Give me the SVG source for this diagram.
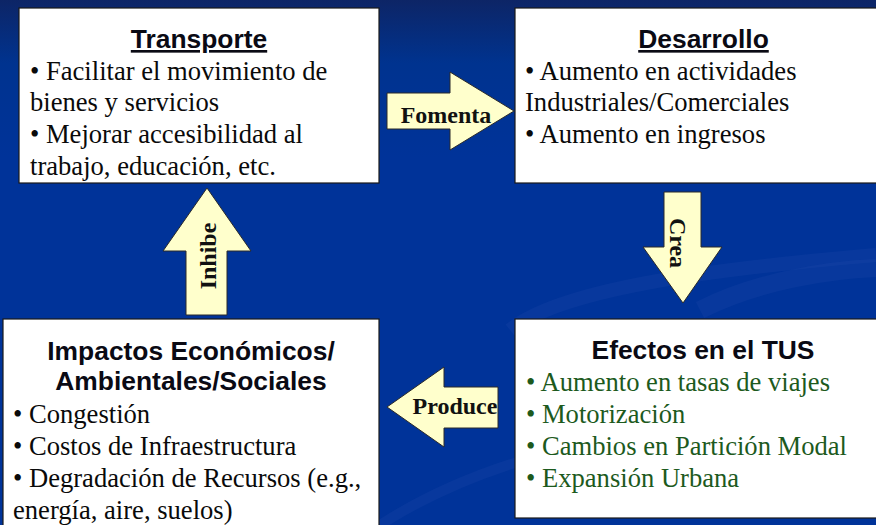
<svg xmlns="http://www.w3.org/2000/svg" width="876" height="525" viewBox="0 0 876 525">
  <defs>
    <linearGradient id="bg" x1="0" y1="0" x2="0" y2="1">
      <stop offset="0" stop-color="#0d2566"/>
      <stop offset="0.12" stop-color="#00338f"/>
      <stop offset="0.3" stop-color="#003399"/>
      <stop offset="1" stop-color="#003399"/>
    </linearGradient>
  </defs>
  <style>
    .box { fill: #ffffff; stroke: #1a1a1a; stroke-width: 1.2; }
    .title { font-family: "Liberation Sans", Arial, sans-serif; font-weight: bold; font-size: 26.4px; fill: #0a0a14; text-anchor: middle; }
    .ul { text-decoration: underline; }
    .body { font-family: "Liberation Serif", "Times New Roman", serif; font-size: 26.6px; fill: #0a0a0a; }
    .green { fill: #1d5a1d; }
    .arrow { fill: #ffffcc; stroke: #2a2a2a; stroke-width: 1; }
    .alabel { font-family: "Liberation Serif", "Times New Roman", serif; font-weight: bold; font-size: 24px; fill: #111111; text-anchor: middle; }
    .swoosh { fill: none; stroke: #2a4fb0; stroke-opacity: 0.2; }
  </style>

  <rect x="0" y="0" width="876" height="525" fill="url(#bg)"/>
  <path class="swoosh" stroke-width="14" d="M 510 330 C 560 290 700 270 876 255"/>
  <path class="swoosh" stroke-width="18" d="M 700 310 C 760 280 830 270 876 268"/>
  <path class="swoosh" stroke-width="10" d="M 380 525 C 450 480 520 460 560 450"/>

  <g id="node-transporte">
    <rect class="box" x="19" y="8" width="360" height="175"/>
    <text class="title ul" x="199" y="48">Transporte</text>
    <text class="body" x="30" y="80">• Facilitar el movimiento de</text>
    <text class="body" x="30" y="111">bienes y servicios</text>
    <text class="body" x="30" y="143">• Mejorar accesibilidad al</text>
    <text class="body" x="30" y="175">trabajo, educación, etc.</text>
  </g>

  <g id="node-desarrollo">
    <rect class="box" x="515" y="8" width="380" height="175"/>
    <text class="title ul" x="703.5" y="48">Desarrollo</text>
    <text class="body" x="525" y="80">• Aumento en actividades</text>
    <text class="body" x="525" y="111">Industriales/Comerciales</text>
    <text class="body" x="525" y="143">• Aumento en ingresos</text>
  </g>

  <g id="node-efectos">
    <rect class="box" x="515" y="319" width="380" height="199"/>
    <text class="title" x="703" y="359">Efectos en el TUS</text>
    <text class="body green" x="526" y="391">• Aumento en tasas de viajes</text>
    <text class="body green" x="526" y="423">• Motorización</text>
    <text class="body green" x="526" y="455">• Cambios en Partición Modal</text>
    <text class="body green" x="526" y="487">• Expansión Urbana</text>
  </g>

  <g id="node-impactos">
    <rect class="box" x="3" y="319" width="376" height="230"/>
    <text class="title" x="191" y="360">Impactos Económicos/</text>
    <text class="title" x="191" y="390">Ambientales/Sociales</text>
    <text class="body" x="13" y="423">• Congestión</text>
    <text class="body" x="13" y="455">• Costos de Infraestructura</text>
    <text class="body" x="13" y="487">• Degradación de Recursos (e.g.,</text>
    <text class="body" x="13" y="519">energía, aire, suelos)</text>
  </g>

  <g id="connectors">
    <g id="arrow-fomenta">
      <polygon class="arrow" points="387,93 450,93 450,72 514,111 450,150 450,129 387,129"/>
      <text class="alabel" x="446" y="123">Fomenta</text>
    </g>
    <g id="arrow-crea">
      <polygon class="arrow" points="664,192 701,192 701,247 722,247 683,303 643,247 664,247"/>
      <text class="alabel" transform="translate(670,243) rotate(90)" x="0" y="0">Crea</text>
    </g>
    <g id="arrow-produce">
      <polygon class="arrow" points="387,407 444,367 444,387 498,387 498,428 444,428 444,447"/>
      <text class="alabel" x="455" y="414">Produce</text>
    </g>
    <g id="arrow-inhibe">
      <polygon class="arrow" points="207,188 251,251 227,251 227,315 186,315 186,251 163,251"/>
      <text class="alabel" transform="translate(216,256) rotate(-90)" x="0" y="0">Inhibe</text>
    </g>
  </g>
</svg>
